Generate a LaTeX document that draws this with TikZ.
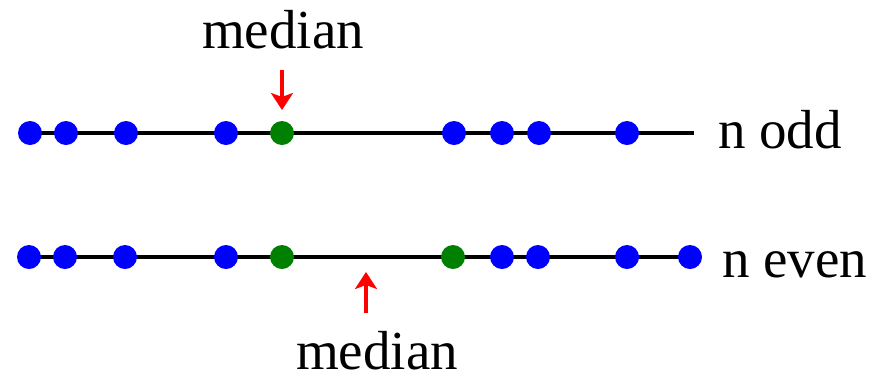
\documentclass[tikz,border=0pt]{standalone}
\usepackage{fontspec}
\setmainfont{Liberation Serif}
\usetikzlibrary{arrows.meta}
\definecolor{ptblue}{HTML}{0000FF}
\definecolor{medgreen}{HTML}{008000}
\definecolor{arrowred}{HTML}{FF0000}

\begin{document}
\begin{tikzpicture}[x=1pt, y=-1pt,
    dot/.style={circle, inner sep=0pt, minimum size=24pt, fill=ptblue},
    meddot/.style={dot, fill=medgreen},
    axis/.style={line width=4pt, black},
    lbl/.style={inner sep=0pt, anchor=base west, font=\fontsize{55}{60}\selectfont},
    medlbl/.style={inner sep=0pt, anchor=base, font=\fontsize{55}{60}\selectfont},
    medarrow/.style={line width=4pt, arrowred,
                     -{Stealth[length=17pt, width=22pt, inset=4pt]}},
]
\useasboundingbox (0,0) rectangle (876,376);
% n odd
\coordinate (ostart) at (30,133);
\coordinate (oend) at (694,133);
\draw[axis] (ostart) -- (oend);
\foreach \x [count=\i from 1] in {30,66,126,226} {
  \node[dot] (o\i) at (\x,133) {};
}
\node[meddot] (o5) at (282,133) {};
\foreach \x [count=\i from 6] in {454,502,539,627} {
  \node[dot] (o\i) at (\x,133) {};
}
\node[lbl] (odd) at (718,148) {n odd};
\node[medlbl] (medtop) at (283,48) {median};
\coordinate (ttail) at (282,70);
\coordinate (ttip) at (282,110);
\draw[medarrow] (ttail) -- (ttip);
% n even
\coordinate (estart) at (29,257);
\coordinate (eend) at (690,257);
\draw[axis] (estart) -- (eend);
\foreach \x [count=\i from 1] in {29,65,125,226} {
  \node[dot] (e\i) at (\x,257) {};
}
\node[meddot] (e5) at (282,257) {};
\node[meddot] (e6) at (453,257) {};
\foreach \x [count=\i from 7] in {502,538,627,690} {
  \node[dot] (e\i) at (\x,257) {};
}
\node[lbl] (even) at (722,277) {n even};
\node[medlbl] (medbot) at (377,369) {median};
\coordinate (btail) at (366,313);
\coordinate (btip) at (366,272);
\draw[medarrow] (btail) -- (btip);
\end{tikzpicture}
\end{document}
